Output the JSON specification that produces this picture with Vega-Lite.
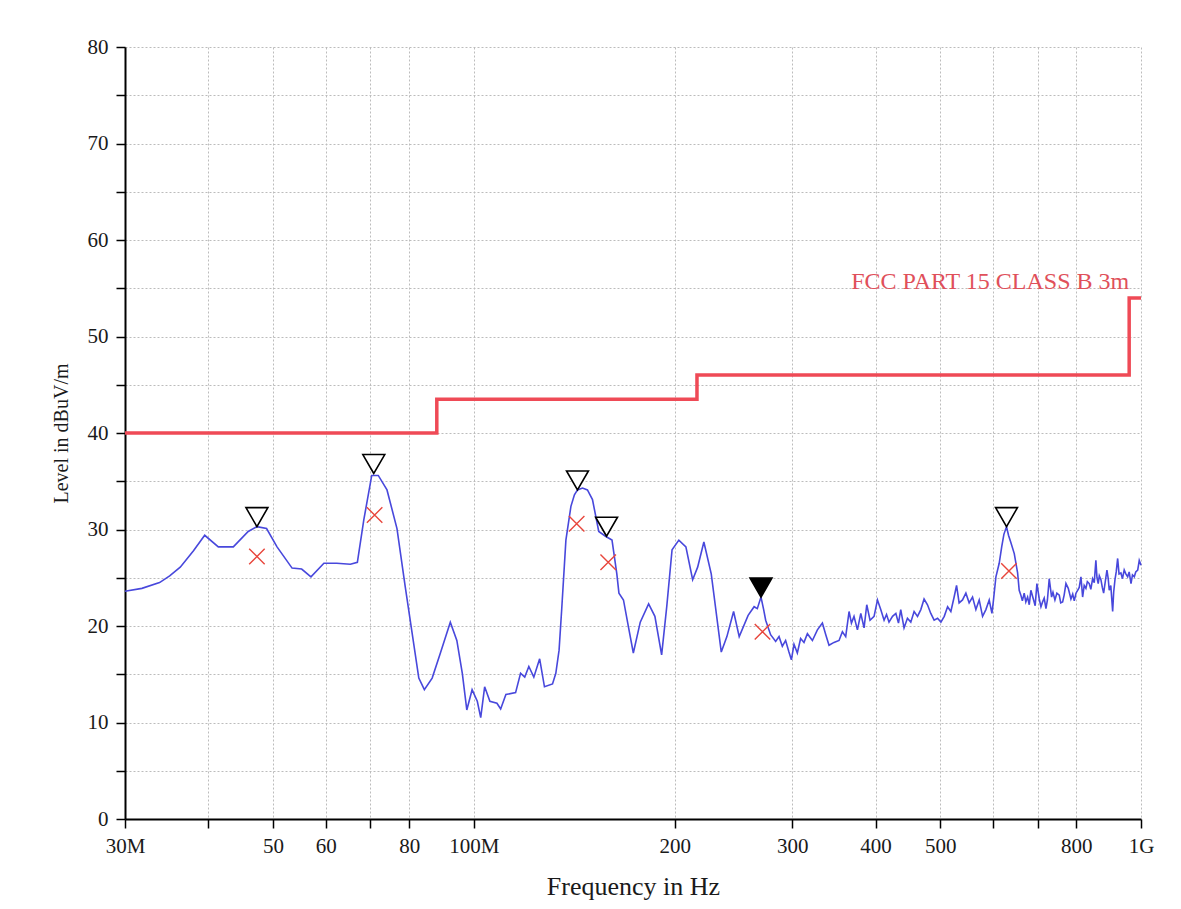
{
  "$schema": "https://vega.github.io/schema/vega-lite/v6.json",
  "width": 1016,
  "height": 772,
  "autosize": "none",
  "padding": {"left": 125, "top": 47, "right": 40, "bottom": 90},
  "background": "white",
  "config": {"view": {"stroke": null}, "font": "Liberation Serif"},
  "datasets": {
    "trace": [
      {"freq_MHz":30,"level":23.6},{"freq_MHz":31.8,"level":23.9},{"freq_MHz":33.8,"level":24.5},{"freq_MHz":35,"level":25.2},{"freq_MHz":36.3,"level":26.1},{"freq_MHz":38,"level":27.8},{"freq_MHz":39.5,"level":29.4},{"freq_MHz":41.4,"level":28.2},{"freq_MHz":43.6,"level":28.2},{"freq_MHz":45.9,"level":29.8},{"freq_MHz":47.3,"level":30.3},{"freq_MHz":48.9,"level":30.1},{"freq_MHz":50.7,"level":28.2},{"freq_MHz":53.4,"level":26.0},{"freq_MHz":55.2,"level":25.9},{"freq_MHz":57.0,"level":25.1},{"freq_MHz":59.6,"level":26.5},{"freq_MHz":62.3,"level":26.5},{"freq_MHz":65.3,"level":26.4},{"freq_MHz":66.9,"level":26.6},{"freq_MHz":68.4,"level":31.0},{"freq_MHz":70.3,"level":35.6},{"freq_MHz":71.9,"level":35.6},{"freq_MHz":74.1,"level":34.1},{"freq_MHz":76.7,"level":30.1},{"freq_MHz":78.9,"level":24.1},{"freq_MHz":82.7,"level":14.6},{"freq_MHz":84.3,"level":13.4},{"freq_MHz":86.6,"level":14.6},{"freq_MHz":89.1,"level":17.2},{"freq_MHz":92.2,"level":20.4},{"freq_MHz":94.3,"level":18.5},{"freq_MHz":96.1,"level":15.1},{"freq_MHz":97.6,"level":11.3},{"freq_MHz":99.4,"level":13.4},{"freq_MHz":101.2,"level":12.2},{"freq_MHz":102.4,"level":10.5},{"freq_MHz":103.8,"level":13.7},{"freq_MHz":105.7,"level":12.2},{"freq_MHz":108.3,"level":12.0},{"freq_MHz":109.7,"level":11.4},{"freq_MHz":111.7,"level":12.9},{"freq_MHz":115.5,"level":13.1},{"freq_MHz":117.5,"level":15.1},{"freq_MHz":119.2,"level":14.7},{"freq_MHz":120.9,"level":15.8},{"freq_MHz":123.0,"level":14.7},{"freq_MHz":125.5,"level":16.6},{"freq_MHz":127.6,"level":13.7},{"freq_MHz":131.2,"level":14.0},{"freq_MHz":132.7,"level":15.1},{"freq_MHz":134.2,"level":17.5},{"freq_MHz":135.5,"level":22.0},{"freq_MHz":137.4,"level":28.9},{"freq_MHz":139.8,"level":32.4},{"freq_MHz":141.5,"level":33.6},{"freq_MHz":143.0,"level":34.1},{"freq_MHz":145.5,"level":34.3},{"freq_MHz":148.0,"level":34.1},{"freq_MHz":150.6,"level":33.1},{"freq_MHz":153.9,"level":29.8},{"freq_MHz":157.5,"level":29.3},{"freq_MHz":161.1,"level":28.9},{"freq_MHz":163.8,"level":25.4},{"freq_MHz":165.0,"level":23.4},{"freq_MHz":167.6,"level":22.7},{"freq_MHz":170.5,"level":19.9},{"freq_MHz":173.4,"level":17.2},{"freq_MHz":177.6,"level":20.4},{"freq_MHz":182.8,"level":22.3},{"freq_MHz":186.8,"level":21.0},{"freq_MHz":191.2,"level":17.0},{"freq_MHz":194.6,"level":22.0},{"freq_MHz":198.2,"level":27.9},{"freq_MHz":202.9,"level":28.9},{"freq_MHz":207.9,"level":28.2},{"freq_MHz":212.8,"level":24.8},{"freq_MHz":216.5,"level":26.1},{"freq_MHz":221.2,"level":28.7},{"freq_MHz":226.9,"level":25.4},{"freq_MHz":234.9,"level":17.3},{"freq_MHz":239.5,"level":18.9},{"freq_MHz":245.1,"level":21.5},{"freq_MHz":249.9,"level":18.9},{"freq_MHz":257.7,"level":21.1},{"freq_MHz":263.1,"level":22.0},{"freq_MHz":266.0,"level":21.8},{"freq_MHz":269.4,"level":23.0},{"freq_MHz":271.9,"level":21.7},{"freq_MHz":273.8,"level":20.6},{"freq_MHz":278.5,"level":19.1},{"freq_MHz":283.4,"level":18.4},{"freq_MHz":286.7,"level":18.9},{"freq_MHz":290.0,"level":17.9},{"freq_MHz":293.3,"level":18.5},{"freq_MHz":296.7,"level":17.3},{"freq_MHz":299.2,"level":16.5},{"freq_MHz":301.9,"level":18.1},{"freq_MHz":305.4,"level":17.2},{"freq_MHz":308.9,"level":18.7},{"freq_MHz":312.5,"level":18.3},{"freq_MHz":316.2,"level":19.2},{"freq_MHz":321.7,"level":18.5},{"freq_MHz":327.3,"level":19.6},{"freq_MHz":333.0,"level":20.3},{"freq_MHz":336.9,"level":19.1},{"freq_MHz":340.7,"level":18.0},{"freq_MHz":346.6,"level":18.3},{"freq_MHz":352.7,"level":18.5},{"freq_MHz":356.8,"level":19.4},{"freq_MHz":360.9,"level":18.9},{"freq_MHz":365.1,"level":21.5},{"freq_MHz":368.1,"level":20.3},{"freq_MHz":371.4,"level":21.0},{"freq_MHz":375.8,"level":19.6},{"freq_MHz":380.2,"level":21.3},{"freq_MHz":384.5,"level":19.8},{"freq_MHz":388.1,"level":22.2},{"freq_MHz":392.5,"level":20.6},{"freq_MHz":398.0,"level":21.0},{"freq_MHz":402.7,"level":22.7},{"freq_MHz":407.3,"level":21.7},{"freq_MHz":412.0,"level":20.6},{"freq_MHz":415.5,"level":21.2},{"freq_MHz":419.1,"level":20.4},{"freq_MHz":424.2,"level":21.0},{"freq_MHz":429.1,"level":21.3},{"freq_MHz":433.0,"level":20.3},{"freq_MHz":436.4,"level":21.7},{"freq_MHz":441.4,"level":19.8},{"freq_MHz":446.6,"level":20.8},{"freq_MHz":451.8,"level":20.4},{"freq_MHz":457.0,"level":21.5},{"freq_MHz":462.4,"level":21.0},{"freq_MHz":467.7,"level":21.7},{"freq_MHz":473.0,"level":22.8},{"freq_MHz":478.6,"level":22.2},{"freq_MHz":484.1,"level":21.3},{"freq_MHz":489.7,"level":20.6},{"freq_MHz":495.5,"level":20.8},{"freq_MHz":501.3,"level":20.4},{"freq_MHz":507.1,"level":21.0},{"freq_MHz":513.0,"level":22.0},{"freq_MHz":518.8,"level":21.5},{"freq_MHz":524.7,"level":23.0},{"freq_MHz":529.1,"level":24.2},{"freq_MHz":533.8,"level":22.4},{"freq_MHz":540.1,"level":22.7},{"freq_MHz":546.4,"level":23.4},{"freq_MHz":552.6,"level":22.4},{"freq_MHz":559.1,"level":23.0},{"freq_MHz":565.6,"level":21.7},{"freq_MHz":572.1,"level":22.7},{"freq_MHz":578.8,"level":21.0},{"freq_MHz":585.5,"level":21.7},{"freq_MHz":592.2,"level":22.7},{"freq_MHz":597.8,"level":21.3},{"freq_MHz":600.4,"level":22.4},{"freq_MHz":606.1,"level":25.1},{"freq_MHz":613.0,"level":26.5},{"freq_MHz":618.3,"level":28.2},{"freq_MHz":623,"level":29.5},{"freq_MHz":628.7,"level":30.3},{"freq_MHz":633,"level":29.4},{"freq_MHz":637.8,"level":28.7},{"freq_MHz":645.7,"level":27.5},{"freq_MHz":653.2,"level":25.5},{"freq_MHz":656.8,"level":23.7},{"freq_MHz":660.6,"level":23.2},{"freq_MHz":664,"level":22.6},{"freq_MHz":668.2,"level":23.4},{"freq_MHz":672,"level":22.5},{"freq_MHz":676.1,"level":23.0},{"freq_MHz":680,"level":22.2},{"freq_MHz":683.8,"level":23.7},{"freq_MHz":690.3,"level":22.7},{"freq_MHz":694,"level":22.1},{"freq_MHz":698.2,"level":24.4},{"freq_MHz":703.9,"level":22.8},{"freq_MHz":708,"level":22.0},{"freq_MHz":712.0,"level":22.5},{"freq_MHz":716,"level":22.9},{"freq_MHz":720.3,"level":21.8},{"freq_MHz":724,"level":22.7},{"freq_MHz":728.5,"level":24.9},{"freq_MHz":734.5,"level":23.0},{"freq_MHz":738,"level":23.5},{"freq_MHz":743.0,"level":22.7},{"freq_MHz":748,"level":23.4},{"freq_MHz":754.2,"level":23.2},{"freq_MHz":758,"level":22.4},{"freq_MHz":763.0,"level":22.5},{"freq_MHz":767,"level":23.2},{"freq_MHz":771.8,"level":24.4},{"freq_MHz":778.0,"level":23.9},{"freq_MHz":785.2,"level":22.8},{"freq_MHz":790,"level":23.3},{"freq_MHz":794.3,"level":22.6},{"freq_MHz":799,"level":23.4},{"freq_MHz":803.6,"level":23.7},{"freq_MHz":808,"level":24.0},{"freq_MHz":812.8,"level":25.1},{"freq_MHz":817.5,"level":23.0},{"freq_MHz":822,"level":24.2},{"freq_MHz":826.9,"level":23.9},{"freq_MHz":831,"level":24.6},{"freq_MHz":836.4,"level":24.4},{"freq_MHz":841,"level":23.8},{"freq_MHz":846.2,"level":24.9},{"freq_MHz":851,"level":24.5},{"freq_MHz":855.8,"level":26.8},{"freq_MHz":859,"level":25.0},{"freq_MHz":862.7,"level":24.4},{"freq_MHz":866,"level":25.2},{"freq_MHz":870.8,"level":24.8},{"freq_MHz":875,"level":24.0},{"freq_MHz":879.0,"level":23.4},{"freq_MHz":884,"level":24.6},{"freq_MHz":889.1,"level":25.8},{"freq_MHz":893,"level":24.9},{"freq_MHz":896.2,"level":23.7},{"freq_MHz":901,"level":24.2},{"freq_MHz":906.8,"level":21.5},{"freq_MHz":910,"level":23.5},{"freq_MHz":914.1,"level":24.8},{"freq_MHz":918,"level":25.6},{"freq_MHz":922.6,"level":27.0},{"freq_MHz":927,"level":25.4},{"freq_MHz":933.0,"level":25.5},{"freq_MHz":938,"level":24.9},{"freq_MHz":943.7,"level":25.8},{"freq_MHz":949,"level":25.4},{"freq_MHz":955.0,"level":25.1},{"freq_MHz":960,"level":25.6},{"freq_MHz":966.1,"level":24.4},{"freq_MHz":971,"level":25.3},{"freq_MHz":977.2,"level":25.1},{"freq_MHz":982,"level":25.6},{"freq_MHz":988.7,"level":25.8},{"freq_MHz":994,"level":26.8},{"freq_MHz":1000,"level":26.3}
    ],
    "limit": [
      {"freq_MHz":30,"level":40},{"freq_MHz":88,"level":43.5},{"freq_MHz":216,"level":46},{"freq_MHz":960,"level":54},{"freq_MHz":1000,"level":54}
    ],
    "limitLabel": [
      {"freq_MHz":960,"level":54,"label":"FCC PART 15 CLASS B 3m"}
    ],
    "peaks": [
      {"freq_MHz":47.3,"level":30.3,"selected":"no"},
      {"freq_MHz":70.8,"level":35.8,"selected":"no"},
      {"freq_MHz":143.0,"level":34.1,"selected":"no"},
      {"freq_MHz":158.1,"level":29.3,"selected":"no"},
      {"freq_MHz":269.4,"level":23.0,"selected":"yes"},
      {"freq_MHz":628.7,"level":30.3,"selected":"no"}
    ],
    "finals": [
      {"freq_MHz":47.3,"level":27.2},
      {"freq_MHz":71.0,"level":31.5},
      {"freq_MHz":142.6,"level":30.6},
      {"freq_MHz":159.0,"level":26.6},
      {"freq_MHz":270.8,"level":19.4},
      {"freq_MHz":634,"level":25.7}
    ]
  },
  "encoding": {
    "x": {
      "field": "freq_MHz",
      "type": "quantitative",
      "title": "Frequency in Hz",
      "scale": {"type": "log", "domain": [30, 1000], "nice": false},
      "axis": {
        "values": [30, 40, 50, 60, 70, 80, 100, 200, 300, 400, 500, 600, 700, 800, 1000],
        "labelExpr": "datum.value == 30 ? '30M' : datum.value == 100 ? '100M' : datum.value == 1000 ? '1G' : (datum.value == 40 || datum.value == 70 || datum.value == 600 || datum.value == 700) ? '' : ('' + datum.value)",
        "grid": true, "gridColor": "#bcbcbc", "gridDash": [2, 2], "gridWidth": 1,
        "domainColor": "black", "domainWidth": 2,
        "tickColor": "black", "tickWidth": 1.5, "tickSize": 9,
        "labelFont": "Liberation Serif", "labelFontSize": 21, "labelColor": "#1a1a1a", "labelPadding": 7,
        "labelFlush": false, "labelOverlap": false,
        "titleFont": "Liberation Serif", "titleFontSize": 26, "titleFontWeight": "normal", "titleColor": "#1a1a1a", "titlePadding": 17
      }
    },
    "y": {
      "field": "level",
      "type": "quantitative",
      "title": "Level in dBuV/m",
      "scale": {"domain": [0, 80], "nice": false, "zero": false},
      "axis": {
        "values": [0, 5, 10, 15, 20, 25, 30, 35, 40, 45, 50, 55, 60, 65, 70, 75, 80],
        "labelExpr": "datum.value % 10 == 0 ? ('' + datum.value) : ''",
        "grid": true, "gridColor": "#bcbcbc", "gridDash": [2, 2], "gridWidth": 1,
        "domainColor": "black", "domainWidth": 2,
        "tickColor": "black", "tickWidth": 1.5, "tickSize": 9,
        "labelFont": "Liberation Serif", "labelFontSize": 21, "labelColor": "#1a1a1a", "labelPadding": 8,
        "labelOverlap": false, "labelFlush": false,
        "titleFont": "Liberation Serif", "titleFontSize": 20, "titleFontWeight": "normal", "titleColor": "#1a1a1a", "titlePadding": 16
      }
    }
  },
  "layer": [
    {
      "data": {"name": "limit"},
      "mark": {"type": "line", "color": "#ef4a56", "strokeWidth": 3.5, "interpolate": "step-after"}
    },
    {
      "data": {"name": "trace"},
      "mark": {"type": "line", "color": "#4848dc", "strokeWidth": 1.6}
    },
    {
      "data": {"name": "limitLabel"},
      "mark": {"type": "text", "color": "#e0505a", "font": "Liberation Serif", "fontSize": 24, "align": "right", "baseline": "alphabetic", "dy": -9, "dx": 0},
      "encoding": {"text": {"field": "label"}}
    },
    {
      "data": {"name": "finals"},
      "mark": {"type": "point", "shape": "M-1,-1L1,1M-1,1L1,-1", "size": 240, "filled": false, "stroke": "#e8463c", "strokeWidth": 1.4, "opacity": 1}
    },
    {
      "data": {"name": "peaks"},
      "transform": [{"filter": "datum.selected == 'no'"}],
      "mark": {"type": "point", "shape": "triangle-down", "size": 480, "filled": true, "fill": "white", "stroke": "black", "strokeWidth": 1.6, "yOffset": -9.5, "opacity": 1, "fillOpacity": 1}
    },
    {
      "data": {"name": "peaks"},
      "transform": [{"filter": "datum.selected == 'yes'"}],
      "mark": {"type": "point", "shape": "triangle-down", "size": 480, "filled": true, "fill": "black", "stroke": "black", "strokeWidth": 1.6, "yOffset": -9.5, "opacity": 1, "fillOpacity": 1}
    }
  ]
}
